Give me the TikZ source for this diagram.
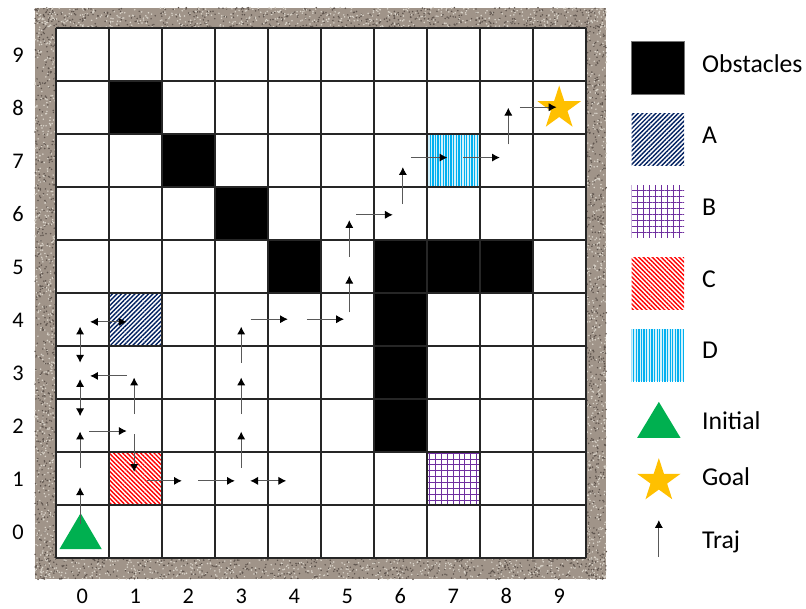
\documentclass[tikz,border=0pt]{standalone}
\usepackage{fontspec}
\setmainfont{Carlito}
\usetikzlibrary{arrows.meta, patterns.meta, shapes.geometric, positioning}
\definecolor{granite}{RGB}{160,148,137}
\definecolor{speckdk}{RGB}{95,85,78}
\definecolor{specklt}{RGB}{218,212,202}
\definecolor{hatchA}{RGB}{0,32,96}
\definecolor{hatchB}{RGB}{112,48,160}
\definecolor{hatchC}{RGB}{255,0,0}
\definecolor{hatchD}{RGB}{0,176,240}
\definecolor{initcol}{RGB}{0,176,80}
\definecolor{goalcol}{RGB}{255,192,0}

\begin{document}
\begin{tikzpicture}[
    cellA/.style={pattern={Lines[angle=45, distance=1.7pt, line width=0.75pt]}, pattern color=hatchA},
    cellB/.style={pattern={Hatch[angle=0, distance=3.2pt, line width=0.5pt]}, pattern color=hatchB},
    cellC/.style={pattern={Lines[angle=-45, distance=1.7pt, line width=0.75pt]}, pattern color=hatchC},
    cellD/.style={preaction={fill=hatchD!18}, pattern={Lines[angle=90, distance=1.4pt, line width=0.7pt]}, pattern color=hatchD},
    keybox/.style={rectangle, minimum size=0.99cm, inner sep=0pt},
    keytext/.style={font=\fontsize{13.8}{16}\selectfont, inner sep=0pt, anchor=base west},
    axlabel/.style={font=\fontsize{12}{14}\selectfont, inner sep=0pt, anchor=base},
    goalstar/.style={star, star points=5, star point ratio=2.618, fill=goalcol, inner sep=0pt},
    traj/.style={-{Latex[length=4.2pt, width=4.4pt, black]}, line width=0.55pt, draw=black!65},
    trajboth/.style={{Latex[length=4.2pt, width=4.4pt, black]}-{Latex[length=4.2pt, width=4.4pt, black]}, line width=0.55pt, draw=black!65}
]
\useasboundingbox (-1.051,-0.949) rectangle (14.157,10.523);
\fill[white] (-1.051,-0.949) rectangle (14.157,10.523);

% stone frame
\fill[granite] (-0.39,-0.41) rectangle (10.39,10.38);
\pgfmathsetseed{11}
\foreach \i in {1,...,520} {
  \fill[speckdk] ({-0.39+10.78*rnd},{-0.41+0.41*rnd}) circle (0.016);
  \fill[specklt] ({-0.39+10.78*rnd},{-0.41+0.41*rnd}) circle (0.016);
  \fill[speckdk] ({-0.39+10.78*rnd},{10+0.38*rnd}) circle (0.016);
  \fill[specklt] ({-0.39+10.78*rnd},{10+0.38*rnd}) circle (0.016);
  \fill[speckdk] ({-0.39+0.39*rnd},{-0.41+10.79*rnd}) circle (0.016);
  \fill[specklt] ({-0.39+0.39*rnd},{-0.41+10.79*rnd}) circle (0.016);
  \fill[speckdk] ({10+0.39*rnd},{-0.41+10.79*rnd}) circle (0.016);
  \fill[specklt] ({10+0.39*rnd},{-0.41+10.79*rnd}) circle (0.016);
}

% grid world
\fill[white] (0,0) rectangle (10,10);
\path[cellA] (1,4) rectangle ++(1,1);
\path[cellB] (7,1) rectangle ++(1,1);
\path[cellC] (1,1) rectangle ++(1,1);
\path[cellD] (7,7) rectangle ++(1,1);
\foreach \x/\y in {1/8, 2/7, 3/6, 4/5, 6/5, 7/5, 8/5, 6/4, 6/3, 6/2}
  \fill[black] (\x,\y) rectangle ++(1,1);
\draw[line width=1pt, black!85] (0,0) grid (10,10);

\foreach \i in {0,...,9} {
  \node[axlabel] (xnum\i) at (\i+0.5,-0.87) {\i};
  \node[axlabel] (ynum\i) at (-0.71,\i+0.35) {\i};
}

% start and goal
\fill[initcol] (0.07,0.16) -- (0.87,0.16) -- (0.47,0.84) -- cycle;
\node[goalstar, minimum size=0.86cm] (goal) at (9.5,8.48) {};

% trajectory
\foreach \xa/\ya/\xb/\yb in {0.46/0.63/0.46/1.33, 0.46/1.70/0.46/2.38, 0.63/2.39/1.34/2.39,
    1.48/2.71/1.48/3.40, 1.34/3.43/0.65/3.43, 1.48/2.33/1.48/1.62, 1.72/1.45/2.38/1.45,
    2.69/1.45/3.38/1.45, 3.50/1.70/3.50/2.38, 3.50/2.71/3.50/3.40, 3.50/3.68/3.50/4.36,
    3.68/4.50/4.38/4.50, 4.74/4.50/5.44/4.50, 5.54/4.63/5.54/5.32, 5.54/5.68/5.54/6.37,
    5.67/6.47/6.36/6.47, 6.55/6.67/6.55/7.37, 6.70/7.55/7.39/7.55, 7.69/7.55/8.38/7.55,
    8.54/7.80/8.54/8.49, 8.76/8.50/9.45/8.50}
  \draw[traj] (\xa,\ya) -- (\xb,\yb);
\foreach \xa/\ya/\xb/\yb in {0.46/2.67/0.46/3.37, 0.46/3.68/0.46/4.36, 0.65/4.45/1.34/4.45,
    3.67/1.45/4.35/1.45}
  \draw[trajboth] (\xa,\ya) -- (\xb,\yb);

% legend
\node[keybox, fill=black, draw=black!55] (keyObs) at (11.36,9.24) {};
\node[keybox, cellA] (keyA) at (11.36,7.89) {};
\node[keybox, cellB] (keyB) at (11.36,6.53) {};
\node[keybox, cellC] (keyC) at (11.36,5.17) {};
\node[keybox, cellD] (keyD) at (11.36,3.82) {};
\fill[initcol] (10.97,2.26) -- (11.79,2.26) -- (11.38,2.94) -- cycle;
\node[goalstar, minimum size=0.86cm] (keyGoal) at (11.38,1.45) {};
\coordinate (trajTail) at (11.38,0.01);
\coordinate (trajHead) at (11.38,0.71);
\draw[traj] (trajTail) -- (trajHead);

\node[keytext] (txtObs) at (12.19,9.16) {Obstacles};
\node[keytext] (txtA) at (12.19,7.82) {A};
\node[keytext] (txtB) at (12.19,6.46) {B};
\node[keytext] (txtC) at (12.19,5.10) {C};
\node[keytext] (txtD) at (12.19,3.75) {D};
\node[keytext] (txtInit) at (12.19,2.42) {Initial};
\node[keytext] (txtGoal) at (12.19,1.36) {Goal};
\node[keytext] (txtTraj) at (12.19,0.18) {Traj};
\end{tikzpicture}
\end{document}
